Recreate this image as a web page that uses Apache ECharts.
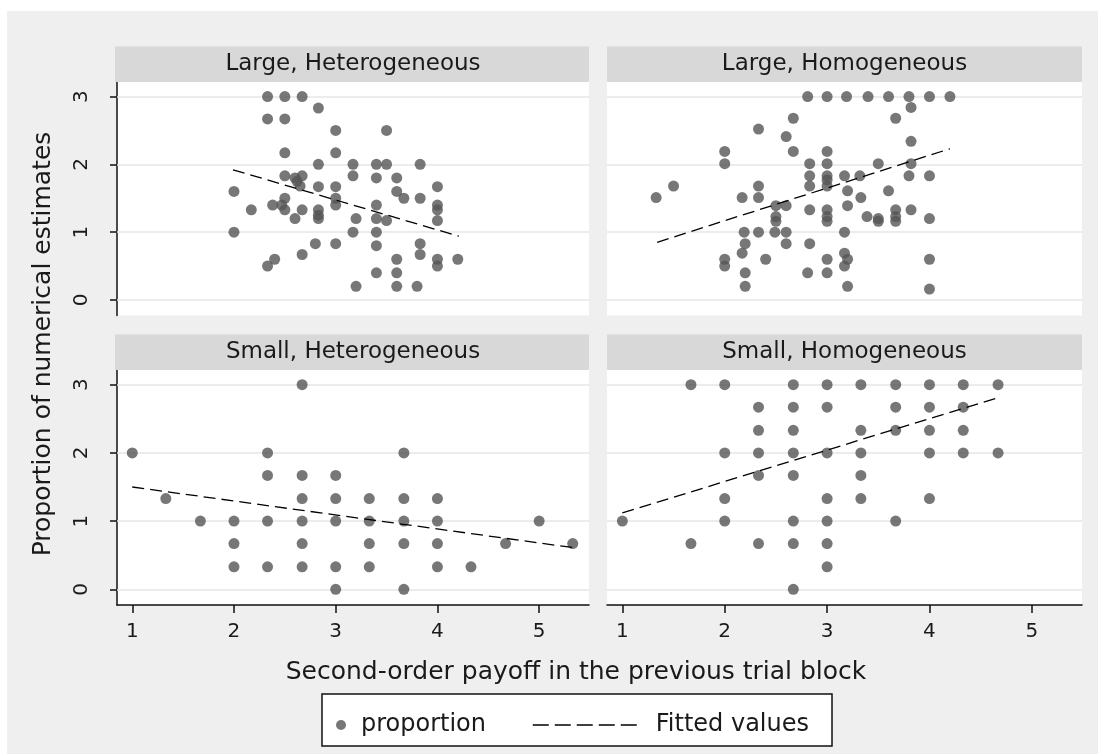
<!DOCTYPE html>
<html>
<head>
<meta charset="utf-8">
<script src="https://cdn.jsdelivr.net/npm/echarts@6/dist/echarts.min.js"></script>
<style>
  html, body { margin: 0; padding: 0; background: #fff; }
  #chart { width: 1098px; height: 754px; }
</style>
</head>
<body>
<div id="chart"></div>
<script>
var panelTitles = ['Large, Heterogeneous', 'Large, Homogeneous', 'Small, Heterogeneous', 'Small, Homogeneous'];
var xTicks = [1, 2, 3, 4, 5];
var yTicks = [0, 1, 2, 3];

var largeHetero = [
  [2.33, 3], [2.5, 3], [2.67, 3], [2.83, 2.83], [2.33, 2.67], [2.5, 2.67], [3, 2.5], [3.5, 2.5],
  [2.5, 2.17], [3, 2.17], [2.83, 2], [3.17, 2], [3.4, 2], [3.5, 2], [3.83, 2],
  [2.5, 1.83], [2.6, 1.8], [2.67, 1.83], [3.17, 1.83], [3.4, 1.8], [3.6, 1.8], [2.62, 1.75],
  [2.65, 1.68], [2.83, 1.67], [3, 1.67], [4, 1.67], [2, 1.6], [3.6, 1.6],
  [2.5, 1.5], [3, 1.5], [3.67, 1.5], [3.83, 1.5], [2.38, 1.4], [2.47, 1.4], [3, 1.4], [3.4, 1.4], [4, 1.4],
  [2.17, 1.33], [2.5, 1.33], [2.67, 1.33], [2.83, 1.33], [4, 1.33],
  [2.6, 1.2], [2.83, 1.25], [3.2, 1.2], [3.4, 1.2], [3.5, 1.17], [4, 1.17], [2.83, 1.2],
  [2, 1], [3.17, 1], [3.4, 1], [2.8, 0.83], [3, 0.83], [3.4, 0.8], [3.83, 0.83],
  [2.67, 0.67], [3.83, 0.67], [2.4, 0.6], [3.6, 0.6], [4, 0.6], [4.2, 0.6], [2.33, 0.5], [4, 0.5],
  [3.4, 0.4], [3.6, 0.4], [3.2, 0.2], [3.6, 0.2], [3.8, 0.2]
];
var largeHomo = [
  [2.81, 3], [3, 3], [3.19, 3], [3.4, 3], [3.6, 3], [3.8, 3], [4, 3], [4.2, 3],
  [3.82, 2.84], [2.67, 2.68], [3.67, 2.68], [2.33, 2.52], [2.6, 2.41], [3.82, 2.34],
  [2, 2.19], [2.67, 2.19], [3, 2.19], [2, 2.01], [2.83, 2.01], [3, 2.01], [3.5, 2.01], [3.82, 2.01],
  [2.83, 1.83], [3, 1.83], [3.17, 1.83], [3.32, 1.83], [3.8, 1.83], [4, 1.83], [3, 1.77],
  [1.5, 1.68], [2.33, 1.68], [2.83, 1.68], [3, 1.68], [3.2, 1.61], [3.6, 1.61],
  [1.33, 1.51], [2.17, 1.51], [2.33, 1.51], [3.33, 1.51], [2.5, 1.39], [2.6, 1.39], [3.2, 1.39],
  [2.83, 1.33], [3, 1.33], [3.67, 1.33], [3.82, 1.33],
  [2.5, 1.23], [3, 1.23], [3.39, 1.23], [3.5, 1.2], [3.67, 1.23], [4, 1.2],
  [2.5, 1.16], [3, 1.16], [3.5, 1.16], [3.67, 1.16],
  [2.19, 1], [2.33, 1], [2.49, 1], [2.6, 1], [3.17, 1], [2.2, 0.83], [2.6, 0.83], [2.83, 0.83],
  [2.17, 0.69], [3.17, 0.69], [2, 0.6], [2.4, 0.6], [3, 0.6], [3.2, 0.6], [4, 0.6],
  [2, 0.5], [3.17, 0.5], [2.2, 0.4], [2.81, 0.4], [3, 0.4], [2.2, 0.2], [3.2, 0.2], [4, 0.16]
];
var smallHetero = [
  [2.67, 3], [1, 2], [2.33, 2], [3.67, 2], [2.33, 1.67], [2.67, 1.67], [3, 1.67],
  [1.33, 1.33], [2.67, 1.33], [3, 1.33], [3.33, 1.33], [3.67, 1.33], [4, 1.33],
  [1.67, 1], [2, 1], [2.33, 1], [2.67, 1], [3, 1], [3.33, 1], [3.67, 1], [4, 1], [5, 1],
  [2, 0.67], [2.67, 0.67], [3.33, 0.67], [3.67, 0.67], [4, 0.67], [4.67, 0.67], [5.33, 0.67],
  [2, 0.33], [2.33, 0.33], [2.67, 0.33], [3, 0.33], [3.33, 0.33], [4, 0.33], [4.33, 0.33],
  [3, 0], [3.67, 0]
];
var smallHomo = [
  [1.67, 3], [2, 3], [2.67, 3], [3, 3], [3.33, 3], [3.67, 3], [4, 3], [4.33, 3], [4.67, 3],
  [2.33, 2.67], [2.67, 2.67], [3, 2.67], [3.67, 2.67], [4, 2.67], [4.33, 2.67],
  [2.33, 2.33], [2.67, 2.33], [3.33, 2.33], [3.67, 2.33], [4, 2.33], [4.33, 2.33],
  [2, 2], [2.33, 2], [2.67, 2], [3, 2], [3.33, 2], [4, 2], [4.33, 2], [4.67, 2],
  [2.33, 1.67], [2.67, 1.67], [3.33, 1.67], [2, 1.33], [3, 1.33], [3.33, 1.33], [4, 1.33],
  [1, 1], [2, 1], [2.67, 1], [3, 1], [3.67, 1], [1.67, 0.67], [2.33, 0.67], [2.67, 0.67], [3, 0.67],
  [3, 0.33], [2.67, 0]
];

var fitLargeHetero = [[1.99, 1.92], [4.21, 0.94]];
var fitLargeHomo = [[1.34, 0.85], [4.2, 2.23]];
var fitSmallHetero = [[1, 1.5], [5.34, 0.61]];
var fitSmallHomo = [[1, 1.12], [4.67, 2.81]];

var points = [largeHetero, largeHomo, smallHetero, smallHomo];
var fits = [fitLargeHetero, fitLargeHomo, fitSmallHetero, fitSmallHomo];

(function() {
  var font = '"DejaVu Sans", sans-serif';
  var ink = '#1a1a1a';
  var dot = '#555555';
  var chart = echarts.init(document.getElementById('chart'), null, { renderer: 'canvas' });

  // panel boxes in pixels: [left, top, width, height]
  var boxes = [
    [117, 82, 472, 233.5],
    [607, 82, 475, 233.5],
    [117, 370, 472, 235],
    [607, 370, 475, 235]
  ];
  var headerH = 35.5;

  var grids = [], xAxes = [], yAxes = [], series = [], graphics = [];

  graphics.push({
    type: 'rect', z: -100, silent: true,
    shape: { x: 7, y: 11, width: 1091, height: 743 },
    style: { fill: '#efefef' }
  });

  boxes.forEach(function(b, i) {
    var isLeft = i % 2 === 0;
    var isBottom = i >= 2;
    grids.push({
      left: b[0], top: b[1], width: b[2], height: b[3],
      show: true, backgroundColor: '#ffffff', borderWidth: 0, containLabel: false
    });
    xAxes.push({
      type: 'value', gridIndex: i, min: 0.85, max: 5.49,
      show: isBottom,
      splitLine: { show: false },
      axisLine: { show: true, onZero: false, lineStyle: { color: '#111', width: 1.5 } },
      axisTick: { show: true, length: 8, customValues: xTicks, lineStyle: { color: '#111', width: 1.5 } },
      axisLabel: { show: true, customValues: xTicks, margin: 17, fontSize: 20, fontFamily: font, color: ink }
    });
    yAxes.push({
      type: 'value', gridIndex: i, min: -0.23, max: 3.215,
      show: isLeft,
      splitLine: { show: false },
      axisLine: { show: true, onZero: false, lineStyle: { color: '#111', width: 1.5 } },
      axisTick: { show: true, length: 7, customValues: yTicks, lineStyle: { color: '#111', width: 1.5 } },
      axisLabel: { show: true, customValues: yTicks, rotate: 90, margin: 25, fontSize: 20, fontFamily: font, color: ink }
    });
    series.push({
      name: 'grid' + i, type: 'line', xAxisIndex: i, yAxisIndex: i, data: [],
      silent: true, z: 1,
      markLine: {
        silent: true, symbol: 'none', z: 1, animation: false,
        label: { show: false },
        lineStyle: { color: '#e6e6e6', width: 1.5, type: 'solid' },
        data: yTicks.map(function(v) { return { yAxis: v }; })
      }
    });
    series.push({
      name: 'proportion', type: 'scatter', xAxisIndex: i, yAxisIndex: i,
      data: points[i], symbol: 'circle', symbolSize: 11, z: 2,
      itemStyle: { color: dot }
    });
    series.push({
      name: 'Fitted values', type: 'line', xAxisIndex: i, yAxisIndex: i,
      data: fits[i], showSymbol: false, symbol: 'none', z: 3,
      itemStyle: { color: '#000' },
      lineStyle: { color: '#000', width: 1.3, type: [12, 6] }
    });

    graphics.push({
      type: 'rect', z: 1, silent: true,
      shape: { x: b[0] - (isLeft ? 2 : 0), y: b[1] - headerH, width: b[2] + (isLeft ? 2 : 0), height: headerH },
      style: { fill: '#d8d8d8' }
    });
    graphics.push({
      type: 'text', z: 2, silent: true,
      x: b[0] + b[2] / 2, y: b[1] - headerH / 2,
      style: { text: panelTitles[i], fontSize: 23, fontFamily: font, fill: ink, align: 'center', verticalAlign: 'middle' }
    });
  });

  graphics.push({
    type: 'text', z: 2, silent: true, x: 43, y: 344, rotation: Math.PI / 2,
    style: { text: 'Proportion of numerical estimates', fontSize: 25, fontFamily: font, fill: ink, align: 'center', verticalAlign: 'middle' }
  });
  graphics.push({
    type: 'text', z: 2, silent: true, x: 576, y: 672,
    style: { text: 'Second-order payoff in the previous trial block', fontSize: 25, fontFamily: font, fill: ink, align: 'center', verticalAlign: 'middle' }
  });
  graphics.push({
    type: 'rect', z: 1, silent: true,
    shape: { x: 322, y: 694, width: 510, height: 52 },
    style: { fill: '#ffffff', stroke: '#111', lineWidth: 1.5 }
  });

  chart.setOption({
    animation: false,
    backgroundColor: 'transparent',
    grid: grids,
    xAxis: xAxes,
    yAxis: yAxes,
    legend: [
      {
        data: ['proportion'], left: 336, top: 713, padding: 0, selectedMode: false,
        itemWidth: 30, itemHeight: 10, icon: 'circle',
        itemStyle: { color: dot },
        textStyle: { fontSize: 24, fontFamily: font, color: ink }
      },
      {
        data: ['Fitted values'], left: 532, top: 713, padding: 0, selectedMode: false,
        itemWidth: 107, itemHeight: 10,
        itemStyle: { opacity: 0 },
        lineStyle: { color: '#000', width: 1.5, type: [16, 6] },
        textStyle: { fontSize: 24, fontFamily: font, color: ink, padding: [0, 0, 0, 11] }
      }
    ],
    graphic: graphics,
    series: series
  });

  window.addEventListener('resize', function() { chart.resize(); });
})();
</script>
</body>
</html>
